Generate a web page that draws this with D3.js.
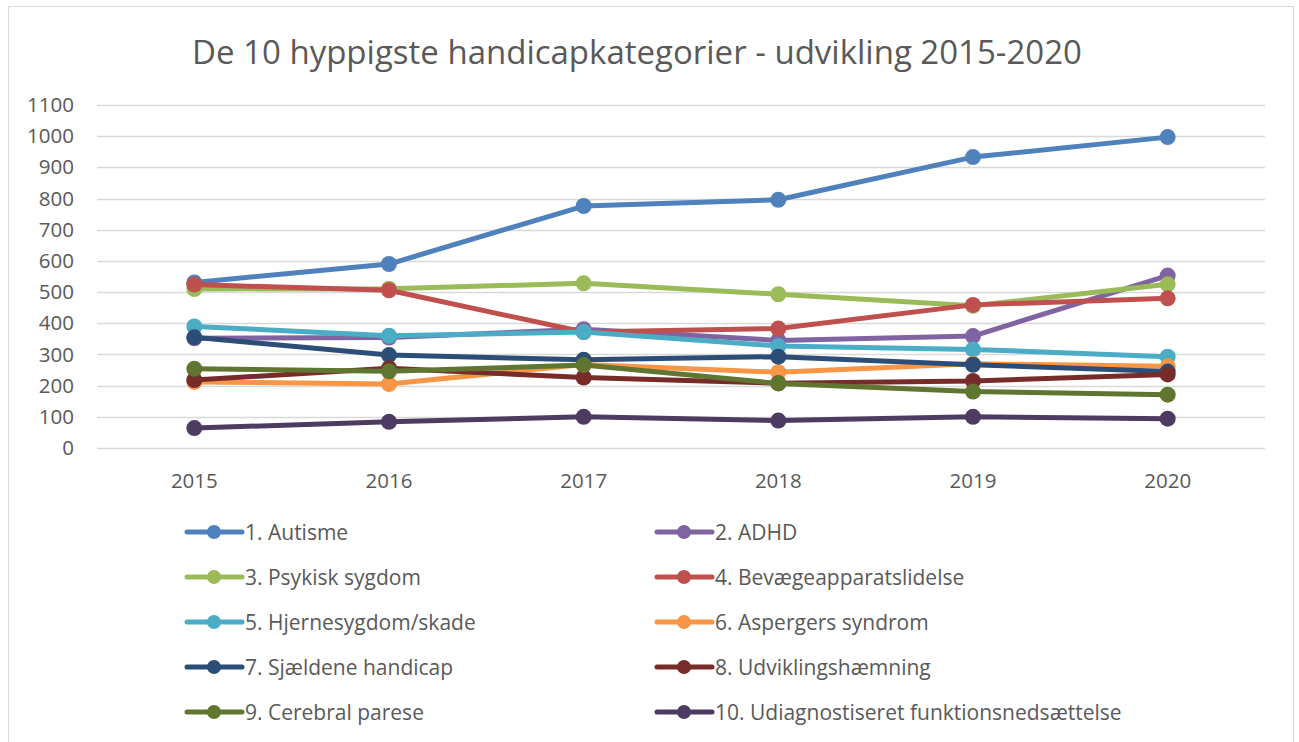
<!DOCTYPE html>
<html>
<head>
<meta charset="utf-8">
<script src="https://cdn.jsdelivr.net/npm/d3@7"></script>
<style>
  html, body { margin: 0; padding: 0; background: #fff; }
  svg { display: block; font-family: "Open Sans", sans-serif; }
</style>
</head>
<body>
<svg id="chart" width="1299" height="742"></svg>
<script>
const years = ["2015", "2016", "2017", "2018", "2019", "2020"];
const yTicks = [0, 100, 200, 300, 400, 500, 600, 700, 800, 900, 1000, 1100];
const seriesNames = [
  "1. Autisme",
  "2. ADHD",
  "3. Psykisk sygdom",
  "4. Bevægeapparatslidelse",
  "5. Hjernesygdom/skade",
  "6. Aspergers syndrom",
  "7. Sjældene handicap",
  "8. Udviklingshæmning",
  "9. Cerebral parese",
  "10. Udiagnostiseret funktionsnedsættelse"
];
const autisme      = [531, 590, 776, 796, 933, 997];
const adhd         = [352, 354, 381, 345, 359, 553];
const psykisk      = [510, 511, 528, 493, 456, 525];
const bevaege      = [524, 506, 372, 383, 459, 480];
const hjerne       = [390, 360, 372, 327, 316, 293];
const asperger     = [212, 205, 268, 243, 270, 262];
const sjaeldne     = [355, 298, 283, 293, 267, 245];
const udvikling    = [218, 256, 226, 208, 215, 236];
const cerebral     = [254, 246, 266, 207, 181, 171];
const udiagnost    = [64, 84, 100, 88, 100, 94];
const seriesValues = [autisme, adhd, psykisk, bevaege, hjerne, asperger, sjaeldne, udvikling, cerebral, udiagnost];
const colors = ["#4F81BD", "#8064A2", "#9BBB59", "#C0504D", "#4BACC6", "#F79646", "#2C4D75", "#772C2A", "#5F7530", "#4D3B62"];

const svg = d3.select("#chart");

// outer frame
svg.append("rect").attr("x", 8.5).attr("y", 6.5).attr("width", 1285).attr("height", 740)
  .attr("fill", "#fff").attr("stroke", "#d9d9d9").attr("stroke-width", 1);

// title
svg.append("text").attr("x", 637).attr("y", 64).attr("text-anchor", "middle")
  .attr("font-size", 33).attr("fill", "#595959")
  .text("De 10 hyppigste handicapkategorier - udvikling 2015-2020");

const x = d3.scaleBand().domain(years).range([97, 1265]);
const y = d3.scaleLinear().domain([0, 1100]).range([448, 105]);

// gridlines
svg.append("g").selectAll("line").data(yTicks).join("line")
  .attr("x1", 97).attr("x2", 1265)
  .attr("y1", d => Math.round(y(d)) + 0.5).attr("y2", d => Math.round(y(d)) + 0.5)
  .attr("stroke", "#d9d9d9").attr("stroke-width", 1.3);

// y axis labels
const yAxis = d3.axisLeft(y).tickValues(yTicks).tickFormat(d3.format("d")).tickSize(0).tickPadding(0);
const yg = svg.append("g").attr("transform", "translate(74,0)").call(yAxis);
yg.select(".domain").remove();
yg.selectAll("text").attr("font-size", 20.5).attr("fill", "#595959").attr("font-family", "'Open Sans', sans-serif");

// x axis labels
const xAxis = d3.axisBottom(x).tickSize(0).tickPadding(0);
const xg = svg.append("g").attr("transform", "translate(0,473)").call(xAxis);
xg.select(".domain").remove();
xg.selectAll("text").attr("font-size", 20.5).attr("fill", "#595959").attr("font-family", "'Open Sans', sans-serif");

const cx = d => x(d) + x.bandwidth() / 2;
const line = d3.line().x(d => cx(d.year)).y(d => y(d.v));

seriesValues.forEach((vals, i) => {
  const pts = years.map((yr, j) => ({ year: yr, v: vals[j] }));
  const g = svg.append("g");
  g.append("path").datum(pts).attr("d", line)
    .attr("fill", "none").attr("stroke", colors[i]).attr("stroke-width", 5)
    .attr("stroke-linejoin", "round").attr("stroke-linecap", "round");
  g.selectAll("circle").data(pts).join("circle")
    .attr("cx", d => cx(d.year)).attr("cy", d => y(d.v)).attr("r", 8)
    .attr("fill", colors[i]);
});

// legend
const legend = svg.append("g");
seriesNames.forEach((name, i) => {
  const col = i % 2, row = Math.floor(i / 2);
  const lx = col === 0 ? 187 : 657;
  const ly = 532 + row * 45;
  const g = legend.append("g");
  g.append("line").attr("x1", lx).attr("x2", lx + 55).attr("y1", ly).attr("y2", ly)
    .attr("stroke", colors[i]).attr("stroke-width", 5).attr("stroke-linecap", "round");
  g.append("circle").attr("cx", lx + 27).attr("cy", ly).attr("r", 7).attr("fill", colors[i]);
  g.append("text").attr("x", lx + 58).attr("y", ly + 8).attr("font-size", 21)
    .attr("fill", "#595959").text(name);
});
</script>
</body>
</html>
